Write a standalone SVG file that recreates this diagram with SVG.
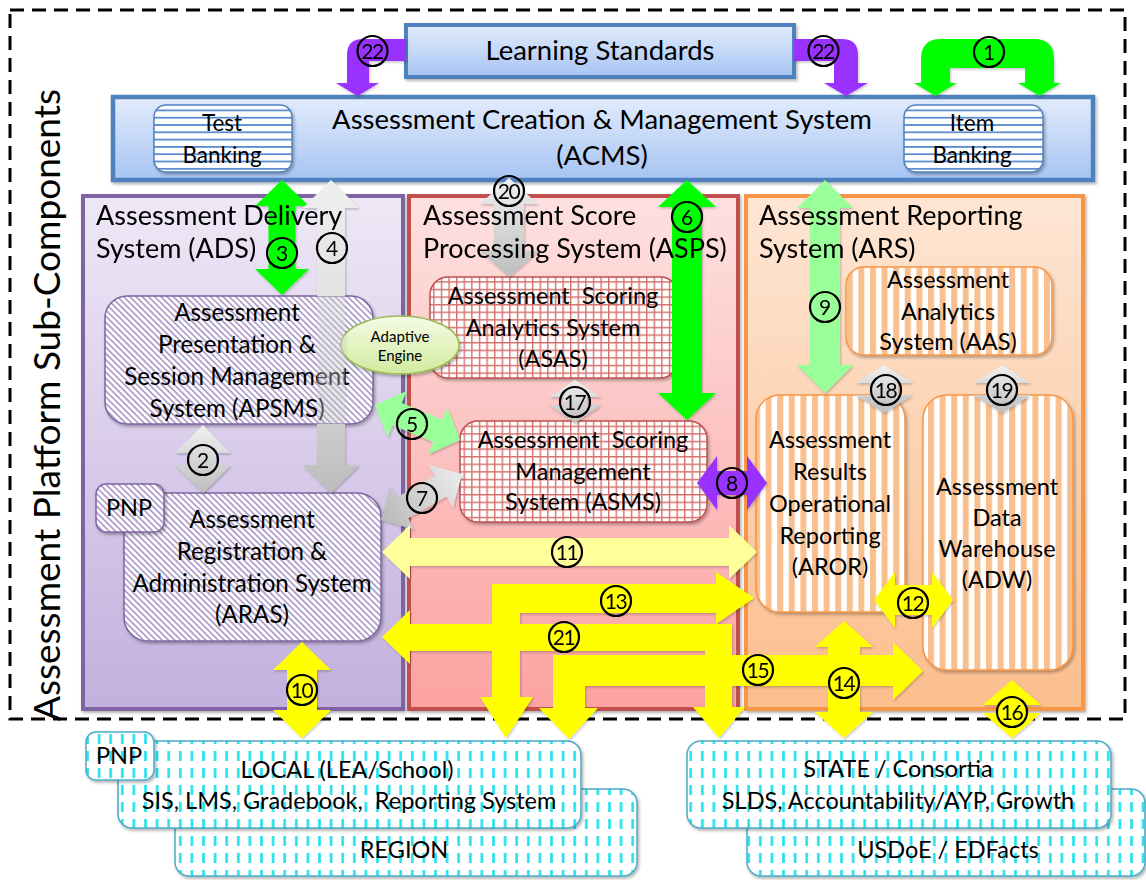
<svg xmlns="http://www.w3.org/2000/svg" width="1146" height="880" viewBox="0 0 1146 880">
<defs>
<style>
.t{font-family:Lato,"Liberation Sans",sans-serif;fill:#000}
.big{font-size:27.5px}
.ttl{font-size:27px}
.n{font-size:23.5px;text-anchor:middle}
.n2{font-size:24.2px;text-anchor:middle}
.bk{font-size:22.5px;text-anchor:middle}
.ae{font-size:15px;text-anchor:middle}
.c{text-anchor:middle}
.lbl circle{fill:none;stroke:#000;stroke-width:2.2}
.lbl text{font-family:Lato,"Liberation Sans",sans-serif;font-size:21px;text-anchor:middle;fill:#000}
.lbl text.d2{letter-spacing:-1.5px}
.ylw{fill:#ffff00}
.lylw{fill:#ffff99}
.grn{fill:#00ff00}
.lgrn{fill:#99ff99}
.pur{fill:#9933ff}
.gry{fill:url(#gGray)}
</style>
<linearGradient id="gBlue" x1="0" y1="0" x2="0" y2="1"><stop offset="0" stop-color="#e2ecfc"/><stop offset="1" stop-color="#a6c4f3"/></linearGradient>
<linearGradient id="gPurple" x1="0" y1="0" x2="0" y2="1"><stop offset="0" stop-color="#eee8f6"/><stop offset="1" stop-color="#c3b0de"/></linearGradient>
<linearGradient id="gRed" x1="0" y1="0" x2="0" y2="1"><stop offset="0" stop-color="#fde1e0"/><stop offset="1" stop-color="#fba2a1"/></linearGradient>
<linearGradient id="gOrange" x1="0" y1="0" x2="0" y2="1"><stop offset="0" stop-color="#fee6d4"/><stop offset="1" stop-color="#fbbe8d"/></linearGradient>
<linearGradient id="gEll" x1="0" y1="0" x2="0" y2="1"><stop offset="0" stop-color="#f5fbe6"/><stop offset="1" stop-color="#d2eb9e"/></linearGradient>
<linearGradient id="gGray" x1="0" y1="0" x2="0" y2="1"><stop offset="0" stop-color="#f0f0f0"/><stop offset="1" stop-color="#bdbdbd"/></linearGradient>
<linearGradient id="gGrayD" x1="1" y1="0" x2="0" y2="0"><stop offset="0" stop-color="#ececec"/><stop offset="1" stop-color="#b8b8b8"/></linearGradient>
<linearGradient id="g4" gradientUnits="userSpaceOnUse" x1="0" y1="180" x2="0" y2="493">
<stop offset="0" stop-color="#efefef"/><stop offset="0.37" stop-color="#e2e2e2"/>
<stop offset="0.3706" stop-color="#e2e2e2" stop-opacity="0.35"/><stop offset="0.779" stop-color="#cdcdcd" stop-opacity="0.35"/>
<stop offset="0.78" stop-color="#cdcdcd"/><stop offset="1" stop-color="#bcbcbc"/>
</linearGradient>
<pattern id="pHoriz" width="10" height="7.3" patternUnits="userSpaceOnUse"><rect width="10" height="7.3" fill="#fff"/><rect width="10" height="1.8" fill="#5b8cd0"/></pattern>
<pattern id="pHatch" width="4.4" height="4.4" patternUnits="userSpaceOnUse" patternTransform="rotate(-45)"><rect width="4.4" height="4.4" fill="#fff"/><rect width="1.6" height="4.4" fill="#a797c5"/></pattern>
<pattern id="pGrid" width="7.6" height="7.6" patternUnits="userSpaceOnUse"><rect width="7.6" height="7.6" fill="#fff"/><path d="M0 0.7H7.6M0.7 0V7.6" stroke="#d4706c" stroke-width="1.4"/></pattern>
<pattern id="pVert" width="11.6" height="10" patternUnits="userSpaceOnUse"><rect width="11.6" height="10" fill="#fff"/><rect width="6" height="10" fill="#fabf8f"/></pattern>
<pattern id="pDash" width="11.6" height="17" patternUnits="userSpaceOnUse"><rect width="11.6" height="17" fill="#fff"/><rect x="5" y="3" width="2.6" height="10" fill="#22e2ef"/></pattern>
<filter id="sh" x="-5%" y="-5%" width="110%" height="115%"><feDropShadow dx="1.5" dy="2" stdDeviation="1.5" flood-color="#000" flood-opacity="0.3"/></filter>
<filter id="ash" x="-10%" y="-10%" width="120%" height="120%"><feDropShadow dx="1" dy="1.5" stdDeviation="1.2" flood-color="#000" flood-opacity="0.22"/></filter>
</defs>
<rect width="1146" height="880" fill="#fff"/>

<g id="platform">
<rect x="10" y="10" width="1115" height="709" fill="none" stroke="#000" stroke-width="3" stroke-dasharray="14 8"/>
<text class="t" font-size="37" text-anchor="middle" transform="translate(60,405) rotate(-90)">Assessment Platform Sub-Components</text>
</g>

<g id="ads">
<rect x="83" y="196" width="320" height="513" fill="url(#gPurple)" stroke="#8064a2" stroke-width="4" filter="url(#sh)"/>
</g>
<g id="asps">
<rect x="409" y="196" width="329" height="513" fill="url(#gRed)" stroke="#c0504d" stroke-width="4" filter="url(#sh)"/>
</g>
<g id="ars">
<rect x="746" y="196" width="337" height="513" fill="url(#gOrange)" stroke="#f79646" stroke-width="4" filter="url(#sh)"/>
</g>

<g id="learning-standards">
<rect x="406" y="25" width="388" height="52" fill="url(#gBlue)" stroke="#4f81bd" stroke-width="4" filter="url(#sh)"/>
<text class="t big c" x="600" y="60">Learning Standards</text>
</g>
<g id="acms">
<rect x="113" y="97" width="980" height="83" fill="url(#gBlue)" stroke="#4f81bd" stroke-width="4.5" filter="url(#sh)"/>
<text class="t big c" x="602" y="129">Assessment Creation &amp; Management System</text>
<text class="t big c" x="602" y="165">(ACMS)</text>
</g>
<g id="test-banking">
<rect x="154" y="105" width="138" height="67" rx="12" fill="url(#pHoriz)" stroke="#4f81bd" stroke-width="1.5" filter="url(#sh)"/>
<text class="t bk" x="222" y="131">Test</text>
<text class="t bk" x="222" y="163">Banking</text>
</g>
<g id="item-banking">
<rect x="904" y="105" width="139" height="67" rx="12" fill="url(#pHoriz)" stroke="#4f81bd" stroke-width="1.5" filter="url(#sh)"/>
<text class="t bk" x="972" y="131">Item</text>
<text class="t bk" x="972" y="163">Banking</text>
</g>

<g id="apsms">
<rect x="105" y="296" width="268" height="128" rx="22" fill="url(#pHatch)" stroke="#8064a2" stroke-width="1.5" filter="url(#sh)"/>
<text class="t n2" x="237" y="321">Assessment</text>
<text class="t n2" x="237" y="353">Presentation &amp;</text>
<text class="t n2" x="237" y="385">Session Management</text>
<text class="t n2" x="237" y="417">System (APSMS)</text>
</g>
<g id="aras">
<rect x="124" y="493" width="257" height="148" rx="24" fill="url(#pHatch)" stroke="#8064a2" stroke-width="1.5" filter="url(#sh)"/>
<text class="t n2" x="252" y="528">Assessment</text>
<text class="t n2" x="252" y="560">Registration &amp;</text>
<text class="t n2" x="252" y="592">Administration System</text>
<text class="t n2" x="252" y="623">(ARAS)</text>
</g>
<g id="pnp-ads">
<rect x="96" y="484" width="68" height="48" rx="10" fill="url(#pHatch)" stroke="#8064a2" stroke-width="1.5" filter="url(#sh)"/>
<text class="t n" x="129" y="516">PNP</text>
</g>
<g id="asas">
<rect x="430" y="277" width="248" height="101" rx="18" fill="url(#pGrid)" stroke="#c0504d" stroke-width="1.5" filter="url(#sh)"/>
<text class="t n" x="553" y="304" xml:space="preserve">Assessment  Scoring</text>
<text class="t n" x="553" y="336">Analytics System</text>
<text class="t n" x="553" y="367">(ASAS)</text>
</g>
<g id="asms">
<rect x="460" y="421" width="247" height="101" rx="18" fill="url(#pGrid)" stroke="#c0504d" stroke-width="1.5" filter="url(#sh)"/>
<text class="t n" x="583" y="448" xml:space="preserve">Assessment  Scoring</text>
<text class="t n" x="583" y="480">Management</text>
<text class="t n" x="583" y="510">System (ASMS)</text>
</g>
<g id="adaptive-engine">
<ellipse cx="400" cy="345" rx="59" ry="29" fill="url(#gEll)" stroke="#9bbb59" stroke-width="1.5" filter="url(#sh)"/>
<text class="t ae" x="400" y="342">Adaptive</text>
<text class="t ae" x="400" y="361">Engine</text>
</g>
<g id="aas">
<rect x="846" y="267" width="206" height="88" rx="18" fill="url(#pVert)" stroke="#f79646" stroke-width="1.5" filter="url(#sh)"/>
<text class="t n" x="948" y="288">Assessment</text>
<text class="t n" x="948" y="320">Analytics</text>
<text class="t n" x="948" y="350">System (AAS)</text>
</g>
<g id="aror">
<rect x="756" y="395" width="149" height="217" rx="24" fill="url(#pVert)" stroke="#f79646" stroke-width="1.5" filter="url(#sh)"/>
<text class="t n" x="830" y="448">Assessment</text>
<text class="t n" x="830" y="480">Results</text>
<text class="t n" x="830" y="512">Operational</text>
<text class="t n" x="830" y="544">Reporting</text>
<text class="t n" x="830" y="575">(AROR)</text>
</g>
<g id="adw">
<rect x="923" y="395" width="150" height="275" rx="24" fill="url(#pVert)" stroke="#f79646" stroke-width="1.5" filter="url(#sh)"/>
<text class="t n" x="997" y="495">Assessment</text>
<text class="t n" x="997" y="526">Data</text>
<text class="t n" x="997" y="557">Warehouse</text>
<text class="t n" x="997" y="588">(ADW)</text>
</g>

<g id="region">
<rect x="175" y="789" width="462" height="87" rx="14" fill="url(#pDash)" stroke="#4bacc6" stroke-width="1.5" filter="url(#sh)"/>
<text class="t n" x="404" y="858">REGION</text>
</g>
<g id="local">
<rect x="118" y="741" width="463" height="87" rx="14" fill="url(#pDash)" stroke="#4bacc6" stroke-width="1.5" filter="url(#sh)"/>
<text class="t n" x="347" y="778">LOCAL (LEA/School)</text>
<text class="t n" x="349" y="809" xml:space="preserve">SIS, LMS, Gradebook,  Reporting System</text>
</g>
<g id="pnp-local">
<rect x="86" y="732" width="68" height="48" rx="10" fill="url(#pDash)" stroke="#4bacc6" stroke-width="1.5" filter="url(#sh)"/>
<text class="t n" x="119" y="764">PNP</text>
</g>
<g id="usdoe">
<rect x="747" y="789" width="398" height="87" rx="14" fill="url(#pDash)" stroke="#4bacc6" stroke-width="1.5" filter="url(#sh)"/>
<text class="t n" x="948" y="858">USDoE / EDFacts</text>
</g>
<g id="state">
<rect x="687" y="741" width="424" height="87" rx="14" fill="url(#pDash)" stroke="#4bacc6" stroke-width="1.5" filter="url(#sh)"/>
<text class="t n" x="898" y="777">STATE / Consortia</text>
<text class="t n" x="898" y="809">SLDS, Accountability/AYP, Growth</text>
</g>

<g id="connectors" filter="url(#ash)">
<path class="pur" d="M406 39 L363 39 Q347 39 347 55 L347 83 L336 83 L357.5 96 L379 83 L369 83 L369 61 L406 61 Z"/>
<path class="pur" d="M794 39 L842 39 Q858 39 858 55 L858 83 L868 83 L846 96 L824 83 L834 83 L834 61 L794 61 Z"/>
<path class="grn" d="M921 83 L921 59 Q921 39 941 39 L1034 39 Q1054 39 1054 59 L1054 83 L1061 83 L1039.5 96 L1018 83 L1025 83 L1025 68 L950 68 L950 83 L957 83 L935.5 96 L914 83 Z"/>
<polygon class="grn" points="282,180 309,206 295.5,206 295.5,269 309,269 282,295 255,269 268.5,269 268.5,206 255,206"/>
<polygon fill="url(#g4)" points="331,180 359,208 345,208 345,465 359,465 331,493 303,465 317,465 317,208 303,208"/>
<polygon class="gry" points="509,178 538,204 524,204 524,251 538,251 509,277 480,251 494,251 494,204 480,204"/>
<polygon class="grn" points="687,180 716,207 702,207 702,393 716,393 687,420 658,393 672,393 672,207 658,207"/>
<polygon class="lgrn" points="825,180 853,208 840,208 840,365 853,365 825,393 797,365 810,365 810,208 797,208"/>
<polygon class="gry" points="203,425 231,453 216,453 216,465 231,465 203,493 175,465 190,465 190,453 175,453"/>
<polygon class="gry" points="575,380 601,397 587,397 587,405 601,405 575,423 549,405 563,405 563,397 549,397"/>
<polygon class="gry" points="884,365 913,383 898,383 898,395 913,395 884,413 855,395 870,395 870,383 855,383"/>
<polygon class="gry" points="1002,365 1031,383 1016,383 1016,395 1031,395 1002,413 973,395 988,395 988,383 973,383"/>
<polygon class="lgrn" transform="translate(417.5,422.5) rotate(22.4)" points="-46,0 -22,-25 -22,-12 22,-12 22,-25 46,0 22,25 22,12 -22,12 -22,25"/>
<polygon fill="url(#gGrayD)" transform="translate(421.5,497) rotate(-29.6)" points="-46.6,0 -22,-25 -22,-12 22,-12 22,-25 46.6,0 22,25 22,12 -22,12 -22,25"/>
<polygon class="pur" points="697,483 717,456 717,471 747,471 747,456 767,483 747,510 747,495 717,495 717,510"/>
<polygon class="lylw" points="382,552 410,525 410,538 729,538 729,525 757,552 729,579 729,566 410,566 410,579"/>
<polygon class="ylw" points="492,584 716,584 716,572 754,598 716,624 716,613 520,613 520,697 533,697 506,738 480,697 492,697"/>
<polygon class="ylw" points="410,610 382,637 410,664 410,651 705,651 705,707 693,707 719,738 745,707 732,707 732,624 410,624"/>
<polygon class="ylw" points="553,655 893,655 893,642 923,671 893,700 893,686 585,686 585,708 598,708 569,739 539,708 553,708"/>
<polygon class="ylw" points="844,621 873,647 860,647 860,712 873,712 844,738 815,712 828,712 828,647 815,647"/>
<polygon class="ylw" points="874,600 895,572 895,585 932,585 932,572 953,600 932,628 932,615 895,615 895,628"/>
<polygon class="ylw" points="1012,680 1041,705 1026,705 1026,713 1041,713 1012,738 983,713 998,713 998,705 983,705"/>
<polygon class="ylw" points="302,642 331,670 317,670 317,710 331,710 302,738 273,710 287,710 287,670 273,670"/>
</g>

<g id="container-titles">
<text class="t ttl" x="96" y="225">Assessment Delivery</text>
<text class="t ttl" x="96" y="258">System (ADS)</text>
<text class="t ttl" x="423" y="225">Assessment Score</text>
<text class="t ttl" x="423" y="258">Processing System (ASPS)</text>
<text class="t ttl" x="759" y="225">Assessment Reporting</text>
<text class="t ttl" x="759" y="258">System (ARS)</text>
</g>

<g id="connector-labels" class="lbl">
<circle cx="372.5" cy="51" r="15"/><text class="d2" x="372" y="58.5">22</text>
<circle cx="823.5" cy="51" r="15"/><text class="d2" x="823" y="58.5">22</text>
<circle cx="989" cy="52" r="15"/><text x="989" y="59.5">1</text>
<circle cx="282" cy="253" r="15"/><text x="282" y="260.5">3</text>
<circle cx="332" cy="248" r="15"/><text x="332" y="255.5">4</text>
<circle cx="509" cy="191" r="15"/><text class="d2" x="508.5" y="198.5">20</text>
<circle cx="687" cy="217" r="15"/><text x="687" y="224.5">6</text>
<circle cx="825" cy="307" r="15"/><text x="825" y="314.5">9</text>
<circle cx="203" cy="460" r="15"/><text x="203" y="467.5">2</text>
<circle cx="412" cy="424" r="15"/><text x="412" y="431.5">5</text>
<circle cx="422" cy="498" r="15"/><text x="422" y="505.5">7</text>
<circle cx="575" cy="402" r="15"/><text class="d2" x="574.5" y="409.5">17</text>
<circle cx="732" cy="483" r="15"/><text x="732" y="490.5">8</text>
<circle cx="886" cy="390" r="15"/><text class="d2" x="885.5" y="397.5">18</text>
<circle cx="1002" cy="390" r="15"/><text class="d2" x="1001.5" y="397.5">19</text>
<circle cx="567" cy="552" r="15"/><text class="d2" x="566.5" y="559.5">11</text>
<circle cx="616" cy="601" r="15"/><text class="d2" x="615.5" y="608.5">13</text>
<circle cx="564" cy="637" r="15"/><text class="d2" x="563.5" y="644.5">21</text>
<circle cx="758" cy="670" r="15"/><text class="d2" x="757.5" y="677.5">15</text>
<circle cx="844" cy="683" r="15"/><text class="d2" x="843.5" y="690.5">14</text>
<circle cx="913" cy="603" r="15"/><text class="d2" x="912.5" y="610.5">12</text>
<circle cx="1012" cy="712" r="15"/><text class="d2" x="1011.5" y="719.5">16</text>
<circle cx="302" cy="690" r="15"/><text class="d2" x="301.5" y="697.5">10</text>
</g>
</svg>
